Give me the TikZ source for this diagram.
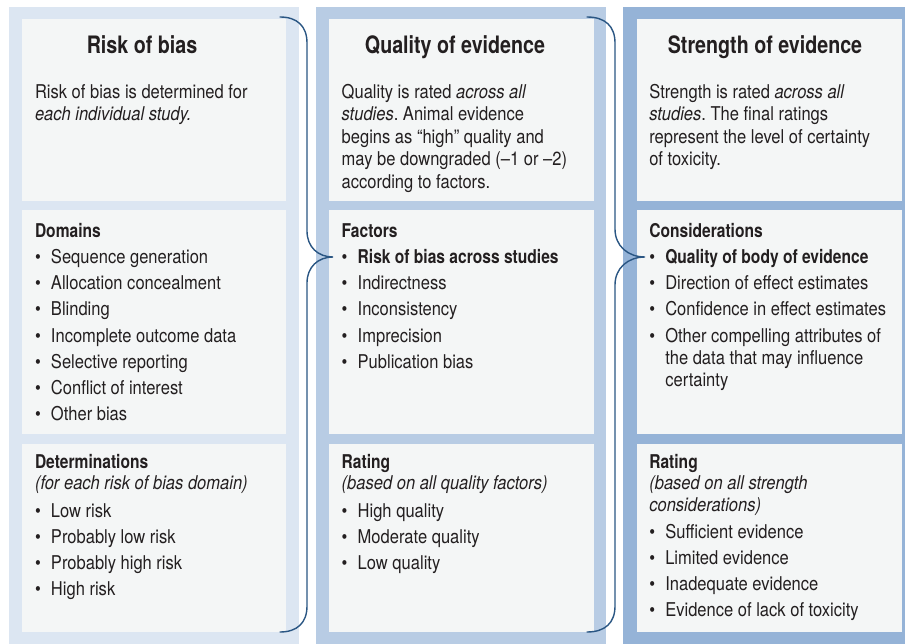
\documentclass[tikz,border=0pt]{standalone}
\usepackage{fontspec}
\setmainfont{TeX Gyre Heros}[FakeStretch=0.87]
\newfontfamily\hbfam{TeX Gyre Heros}[FakeStretch=0.82]
\newcommand\hb{\hbfam\bfseries}
\newcommand\bu{\makebox[16pt][l]{\textbullet}}
\definecolor{colA}{HTML}{DCE6F2}
\definecolor{colB}{HTML}{B8CCE4}
\definecolor{colC}{HTML}{95B3D7}
\definecolor{panelc}{HTML}{F4F6F6}
\definecolor{textc}{HTML}{231F20}
\definecolor{bracec}{HTML}{2A5683}
\frenchspacing
\begin{document}
\begin{tikzpicture}[x=1pt,y=-1pt,
  panel/.style={fill=panelc},
  ln/.style={anchor=base west, inner sep=0pt, outer sep=0pt, text=textc, font=\frenchspacing\fontsize{19}{22}\selectfont},
  hd/.style={ln, font=\hb\fontsize{19}{22}\selectfont},
  ttl/.style={anchor=base, inner sep=0pt, text=textc, font=\hb\fontsize{24}{28}\selectfont},
  brace/.style={draw=bracec, line width=1.4pt, line cap=round}]
\useasboundingbox (0,0) rectangle (905,644);
% column backgrounds
\fill[colA] (9,7) rectangle (299,644);
\fill[colB] (316,7) rectangle (606,644);
\fill[colC] (623,7) rectangle (905,644);
% panels
\foreach \xa/\xb in {22/286, 329/594, 637/901.5}{
  \fill[panel] (\xa,19) rectangle (\xb,201);
  \fill[panel] (\xa,210) rectangle (\xb,434);
  \fill[panel] (\xa,444) rectangle (\xb,632);
}
% braces
\coordinate (b1top) at (280,17);
\coordinate (b1tip) at (333,257);
\coordinate (b1bot) at (280,632);
\draw[brace] (b1top) .. controls (297,17) and (307,26) .. (307,43) -- (307,231)
  .. controls (307,247) and (318,257) .. (b1tip)
  .. controls (318,257) and (307,267) .. (307,283) -- (307,606)
  .. controls (307,623) and (297,632) .. (b1bot);
\coordinate (b2top) at (587,17);
\coordinate (b2tip) at (645,257);
\coordinate (b2bot) at (587,632);
\draw[brace] (b2top) .. controls (605,17) and (615,26) .. (615,43) -- (615,229)
  .. controls (615,246) and (628,257) .. (b2tip)
  .. controls (628,257) and (615,268) .. (615,285) -- (615,606)
  .. controls (615,623) and (605,632) .. (b2bot);
% ---------- column 1
\node[ttl] (t1) at (142,54) {Risk of bias};
\node[ln] (d1a) at (35,98.5) {Risk of bias is determined for};
\node[ln] (d1b) at (35,121) {\itshape each individual study.};
\node[hd] (h1a) at (35,237.5) {Domains};
\foreach \y/\t [count=\i] in {264/Sequence generation, 290/Allocation concealment, 316/Blinding, 342/Incomplete outcome data, 368/Selective reporting, 394/Conflict of interest, 420/Other bias}
  \node[ln] (p1a\i) at (35,\y) {\bu\t};
\node[hd] (h1b) at (35,468) {Determinations};
\node[ln] (i1b) at (35,489.5) {\itshape (for each risk of bias domain)};
\foreach \y/\t [count=\i] in {517/Low risk, 543/Probably low risk, 569/Probably high risk, 595/High risk}
  \node[ln] (p1b\i) at (35,\y) {\bu\t};
% ---------- column 2
\node[ttl] (t2) at (455,54) {Quality of evidence};
\node[ln] (d2a) at (341.7,98.5) {Quality is rated \textit{across all}};
\node[ln] (d2b) at (341.7,121) {\textit{studies}. Animal evidence};
\node[ln] (d2c) at (341.7,143.5) {begins as “high” quality and};
\node[ln] (d2d) at (341.7,166) {may be downgraded (–1 or –2)};
\node[ln] (d2e) at (341.7,188.5) {according to factors.};
\node[hd] (h2a) at (341.7,237.5) {Factors};
\node[ln] (p2a1) at (341.7,264) {\bu{\hb Risk of bias across studies}};
\foreach \y/\t [count=\i from 2] in {290/Indirectness, 316/Inconsistency, 342/Imprecision, 368/Publication bias}
  \node[ln] (p2a\i) at (341.7,\y) {\bu\t};
\node[hd] (h2b) at (341.7,468) {Rating};
\node[ln] (i2b) at (341.7,489.5) {\itshape (based on all quality factors)};
\foreach \y/\t [count=\i] in {517/High quality, 543/Moderate quality, 569/Low quality}
  \node[ln] (p2b\i) at (341.7,\y) {\bu\t};
% ---------- column 3
\node[ttl] (t3) at (765,54) {Strength of evidence};
\node[ln] (d3a) at (649.3,98.5) {Strength is rated \textit{across all}};
\node[ln] (d3b) at (649.3,121) {\textit{studies}. The final ratings};
\node[ln] (d3c) at (649.3,143.5) {represent the level of certainty};
\node[ln] (d3d) at (649.3,166) {of toxicity.};
\node[hd] (h3a) at (649.3,237.5) {Considerations};
\node[ln] (p3a1) at (649.3,264) {\bu{\hb Quality of body of evidence}};
\node[ln] (p3a2) at (649.3,290) {\bu Direction of effect estimates};
\node[ln] (p3a3) at (649.3,316) {\bu Confidence in effect estimates};
\node[ln] (p3a4) at (649.3,342.5) {\bu Other compelling attributes of};
\node[ln] (p3a5) at (665.3,364.5) {the data that may influence};
\node[ln] (p3a6) at (665.3,386.5) {certainty};
\node[hd] (h3b) at (649.3,468) {Rating};
\node[ln] (i3b) at (649.3,489.5) {\itshape (based on all strength};
\node[ln] (i3c) at (649.3,511.5) {\itshape considerations)};
\foreach \y/\t [count=\i] in {538.5/Sufficient evidence, 564.5/Limited evidence, 590.5/Inadequate evidence, 616.5/Evidence of lack of toxicity}
  \node[ln] (p3b\i) at (649.3,\y) {\bu\t};
\end{tikzpicture}
\end{document}
